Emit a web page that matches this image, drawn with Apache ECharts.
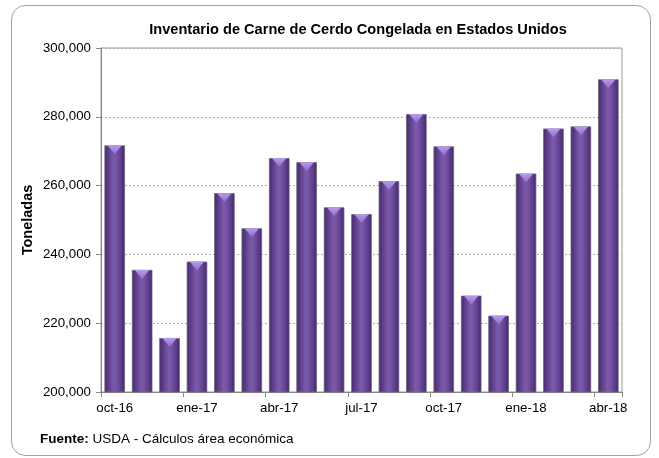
<!DOCTYPE html>
<html>
<head>
<meta charset="utf-8">
<script src="https://cdn.jsdelivr.net/npm/echarts@6/dist/echarts.min.js"></script>
<style>
html,body{margin:0;padding:0;background:#fff;}
#c{width:659px;height:458px;}
</style>
</head>
<body>
<div id="c"></div>
<script>
const categories = ['oct-16','nov-16','dic-16','ene-17','feb-17','mar-17','abr-17','may-17','jun-17','jul-17','ago-17','sep-17','oct-17','nov-17','dic-17','ene-18','feb-18','mar-18','abr-18'];
const inventario = [271700,235500,215700,237900,257800,247600,268000,266800,253700,251700,261300,280800,271400,228000,222200,263500,276600,277200,290900];
const yMin = 200000, yMax = 300000, yStep = 20000;
const titleText = 'Inventario de Carne de Cerdo Congelada en Estados Unidos';
const yAxisName = 'Toneladas';
const sourceBold = 'Fuente:';
const sourceText = ' USDA - Cálculos área económica';

const chart = echarts.init(document.getElementById('c'), null, {renderer:'canvas'});
const FONT = '"Liberation Sans", Arial, sans-serif';
const barGrad = new echarts.graphic.LinearGradient(0,0,1,0,[
  {offset:0, color:'#432868'},
  {offset:0.2, color:'#5e3f8c'},
  {offset:0.45, color:'#7a5aa9'},
  {offset:0.6, color:'#7454a3'},
  {offset:0.85, color:'#593a86'},
  {offset:1, color:'#3e2462'}
]);
const triGrad = new echarts.graphic.LinearGradient(0,0,0,1,[
  {offset:0, color:'#b89cec'},
  {offset:1, color:'#8f6cc8'}
]);
chart.setOption({
  animation:false,
  backgroundColor:'#fff',
  title:{
    text:titleText, left:353, top:17, textAlign:'center',
    textStyle:{fontFamily:FONT, fontSize:14.6, fontWeight:'bold', color:'#000'}
  },
  graphic:[
    {type:'rect', shape:{x:11.5,y:5.5,width:639,height:450,r:14}, style:{fill:'none', stroke:'#a0a0a0', lineWidth:1}, z:-1},
    {type:'text', left:40, top:432, style:{
      text:'{b|'+sourceBold+'}'+sourceText,
      rich:{b:{fontWeight:'bold', fontFamily:FONT, fontSize:13.5, fill:'#000'}},
      font:'13.5px '+FONT, fill:'#000'
    }}
  ],
  grid:{left:101, right:37, top:48, bottom:66, show:true, borderColor:'#999', borderWidth:1},
  xAxis:{
    type:'category', data:categories,
    axisLine:{lineStyle:{color:'#888'}},
    axisTick:{show:true, interval:2, length:5, lineStyle:{color:'#888'}},
    axisLabel:{interval:2, color:'#000', fontFamily:FONT, fontSize:13.3, margin:10}
  },
  yAxis:{
    type:'value', min:yMin, max:yMax, interval:yStep,
    name:yAxisName, nameLocation:'middle', nameGap:66, nameRotate:90,
    nameMoveOverlap:false,
    nameTextStyle:{fontFamily:FONT, fontSize:14.5, fontWeight:'bold', color:'#000'},
    axisLine:{show:true, lineStyle:{color:'#888'}},
    axisTick:{show:true, length:5, lineStyle:{color:'#888'}},
    axisLabel:{color:'#000', fontFamily:FONT, fontSize:13.3, margin:10,
      formatter:v=>v.toLocaleString('en-US')},
    splitLine:{show:true, lineStyle:{color:'#b0b0b0', type:[2,2], width:1}}
  },
  series:[
    {
      type:'bar', data:inventario, barWidth:'75%',
      itemStyle:{color:barGrad, borderColor:'#6f6880', borderWidth:0.8},
      z:2
    },
    {
      type:'pictorialBar', data:inventario,
      symbol:'path://M0,0 L20,0 L10,9 Z',
      symbolSize:['75%',9], symbolPosition:'end', symbolOffset:[0,0],
      itemStyle:{color:triGrad},
      z:3, silent:true
    }
  ]
});
</script>
</body>
</html>
